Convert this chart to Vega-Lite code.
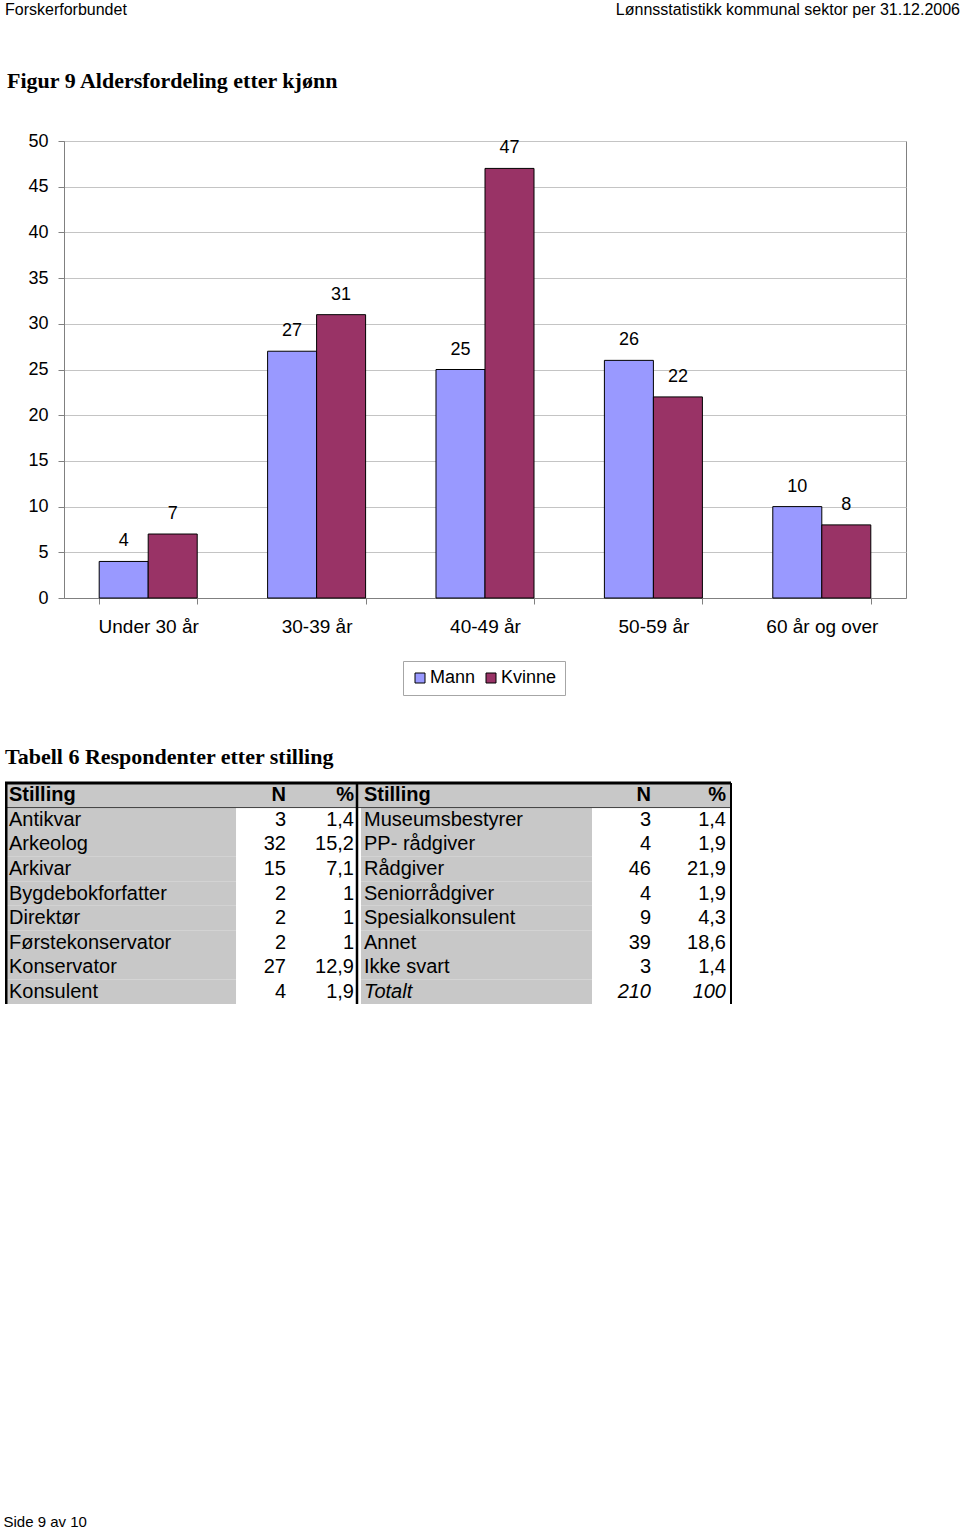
{
  "$schema": "https://vega.github.io/schema/vega-lite/v6.json",
  "background": "white",
  "padding": {"left": 3, "right": 0, "top": 0, "bottom": 0},
  "spacing": 49,
  "config": {
    "font": "Liberation Sans",
    "view": {"stroke": null},
    "title": {"color": "black"}
  },
  "datasets": {
    "topptekst": [
      {"side": "venstre", "tekst": "Forskerforbundet"},
      {"side": "høyre", "tekst": "Lønnsstatistikk kommunal sektor per 31.12.2006"}
    ],
    "alder": [
      {"alder": "Under 30 år", "kjonn": "Mann", "antall": 4},
      {"alder": "Under 30 år", "kjonn": "Kvinne", "antall": 7},
      {"alder": "30-39 år", "kjonn": "Mann", "antall": 27},
      {"alder": "30-39 år", "kjonn": "Kvinne", "antall": 31},
      {"alder": "40-49 år", "kjonn": "Mann", "antall": 25},
      {"alder": "40-49 år", "kjonn": "Kvinne", "antall": 47},
      {"alder": "50-59 år", "kjonn": "Mann", "antall": 26},
      {"alder": "50-59 år", "kjonn": "Kvinne", "antall": 22},
      {"alder": "60 år og over", "kjonn": "Mann", "antall": 10},
      {"alder": "60 år og over", "kjonn": "Kvinne", "antall": 8}
    ],
    "stilling": [
      {"rad": 0, "blokk": "L", "stilling": "Stilling", "n": "N", "pct": "%", "type": "header"},
      {"rad": 1, "blokk": "L", "stilling": "Antikvar", "n": "3", "pct": "1,4", "type": "stilling"},
      {"rad": 2, "blokk": "L", "stilling": "Arkeolog", "n": "32", "pct": "15,2", "type": "stilling"},
      {"rad": 3, "blokk": "L", "stilling": "Arkivar", "n": "15", "pct": "7,1", "type": "stilling"},
      {"rad": 4, "blokk": "L", "stilling": "Bygdebokforfatter", "n": "2", "pct": "1", "type": "stilling"},
      {"rad": 5, "blokk": "L", "stilling": "Direktør", "n": "2", "pct": "1", "type": "stilling"},
      {"rad": 6, "blokk": "L", "stilling": "Førstekonservator", "n": "2", "pct": "1", "type": "stilling"},
      {"rad": 7, "blokk": "L", "stilling": "Konservator", "n": "27", "pct": "12,9", "type": "stilling"},
      {"rad": 8, "blokk": "L", "stilling": "Konsulent", "n": "4", "pct": "1,9", "type": "stilling"},
      {"rad": 0, "blokk": "R", "stilling": "Stilling", "n": "N", "pct": "%", "type": "header"},
      {"rad": 1, "blokk": "R", "stilling": "Museumsbestyrer", "n": "3", "pct": "1,4", "type": "stilling"},
      {"rad": 2, "blokk": "R", "stilling": "PP- rådgiver", "n": "4", "pct": "1,9", "type": "stilling"},
      {"rad": 3, "blokk": "R", "stilling": "Rådgiver", "n": "46", "pct": "21,9", "type": "stilling"},
      {"rad": 4, "blokk": "R", "stilling": "Seniorrådgiver", "n": "4", "pct": "1,9", "type": "stilling"},
      {"rad": 5, "blokk": "R", "stilling": "Spesialkonsulent", "n": "9", "pct": "4,3", "type": "stilling"},
      {"rad": 6, "blokk": "R", "stilling": "Annet", "n": "39", "pct": "18,6", "type": "stilling"},
      {"rad": 7, "blokk": "R", "stilling": "Ikke svart", "n": "3", "pct": "1,4", "type": "stilling"},
      {"rad": 8, "blokk": "R", "stilling": "Totalt", "n": "210", "pct": "100", "type": "total"}
    ]
  },
  "title": {
    "text": "Side 9 av 10",
    "orient": "bottom",
    "anchor": "start",
    "offset": 510,
    "font": "Liberation Sans",
    "fontSize": 15,
    "fontWeight": "normal",
    "color": "black"
  },
  "vconcat": [
    {
      "width": 955,
      "height": 20,
      "data": {"name": "topptekst"},
      "mark": {
        "type": "text",
        "font": "Liberation Sans",
        "fontSize": 16,
        "baseline": "middle",
        "color": "black",
        "align": {"expr": "datum.side == 'venstre' ? 'left' : 'right'"}
      },
      "encoding": {
        "x": {"field": "side", "type": "nominal", "sort": ["venstre", "høyre"], "scale": {"type": "point", "padding": 0}, "axis": null},
        "text": {"field": "tekst"}
      }
    },
    {
      "spacing": 0,
      "resolve": {"legend": {"color": "independent"}},
      "hconcat": [
        {
          "width": 1,
          "height": 20,
          "data": {"values": []},
          "mark": "point"
        },
        {
          "width": 842,
          "height": 457,
          "view": {"stroke": "#808080"},
          "title": {
            "text": "Figur 9 Aldersfordeling etter kjønn",
            "anchor": "start",
            "frame": "group",
            "dx": -57,
            "offset": 39,
            "font": "Liberation Serif",
            "fontSize": 22,
            "fontWeight": "bold",
            "color": "black"
          },
          "data": {"name": "alder"},
          "encoding": {
            "x": {
              "field": "alder",
              "type": "nominal",
              "sort": ["Under 30 år", "30-39 år", "40-49 år", "50-59 år", "60 år og over"],
              "scale": {"paddingInner": 0.418, "paddingOuter": 0.209},
              "axis": {
                "title": null,
                "labelAngle": 0,
                "labelFontSize": 19,
                "labelColor": "black",
                "labelPadding": 13,
                "domainColor": "#808080",
                "tickColor": "#808080",
                "tickSize": 6,
                "tickBand": "extent",
                "grid": false
              }
            },
            "xOffset": {"field": "kjonn", "type": "nominal", "sort": ["Mann", "Kvinne"], "scale": {"paddingInner": 0, "paddingOuter": 0}},
            "y": {
              "field": "antall",
              "type": "quantitative",
              "scale": {"domain": [0, 50]},
              "axis": {
                "title": null,
                "values": [0, 5, 10, 15, 20, 25, 30, 35, 40, 45, 50],
                "labelFontSize": 18,
                "labelColor": "black",
                "labelPadding": 10,
                "gridColor": "#c4c4c4",
                "domainColor": "#808080",
                "tickColor": "#808080",
                "tickSize": 6
              }
            }
          },
          "layer": [
            {
              "mark": {"type": "bar", "stroke": "black", "strokeWidth": 1},
              "encoding": {
                "color": {
                  "field": "kjonn",
                  "type": "nominal",
                  "scale": {"domain": ["Mann", "Kvinne"], "range": ["#9999ff", "#993366"]},
                  "legend": {
                    "title": null,
                    "orient": "none",
                    "legendX": 339,
                    "legendY": 520,
                    "direction": "horizontal",
                    "symbolType": "square",
                    "symbolSize": 100,
                    "symbolStrokeColor": "black",
                    "symbolStrokeWidth": 1,
                    "labelFontSize": 18,
                    "labelColor": "black",
                    "labelOffset": 1,
                    "columnPadding": 6,
                    "padding": 8,
                    "strokeColor": "#a6a6a6",
                    "fillColor": "white"
                  }
                }
              }
            },
            {
              "mark": {"type": "text", "baseline": "alphabetic", "dy": -15, "fontSize": 18, "color": "black"},
              "encoding": {"text": {"field": "antall", "type": "quantitative"}}
            }
          ]
        }
      ]
    },
    {
      "width": 726,
      "height": 221,
      "title": {
        "text": "Tabell 6 Respondenter etter stilling",
        "anchor": "start",
        "frame": "group",
        "offset": 13,
        "font": "Liberation Serif",
        "fontSize": 22,
        "fontWeight": "bold",
        "color": "black"
      },
      "data": {"name": "stilling"},
      "layer": [
        {
          "transform": [{"filter": "datum.type == 'header' && datum.blokk == 'L'"}],
          "mark": {"type": "rect", "color": "#c8c8c8"},
          "encoding": {
            "y": {"field": "rad", "type": "ordinal", "scale": {"paddingInner": 0, "paddingOuter": 0, "domain": [0, 1, 2, 3, 4, 5, 6, 7, 8]}, "axis": null},
            "x": {"value": 0},
            "x2": {"value": "width"}
          }
        },
        {
          "transform": [{"filter": "datum.type != 'header'"}],
          "mark": {"type": "rect", "color": "#c8c8c8"},
          "encoding": {
            "y": {"field": "rad", "type": "ordinal", "axis": null},
            "x": {"field": "blokk", "type": "nominal", "scale": {"type": "band", "range": [0, 587], "paddingInner": 0.351, "paddingOuter": 0}, "axis": null}
          }
        },
        {
          "transform": [{"filter": "datum.rad == 0 && datum.blokk == 'L'"}],
          "mark": {"type": "rule", "color": "black", "strokeWidth": 3},
          "encoding": {
            "y": {"field": "rad", "type": "ordinal", "bandPosition": 0, "axis": null},
            "x": {"value": 0},
            "x2": {"value": "width"}
          }
        },
        {
          "transform": [{"filter": "datum.rad == 1 && datum.blokk == 'L'"}],
          "mark": {"type": "rule", "color": "#404040", "strokeWidth": 1},
          "encoding": {
            "y": {"field": "rad", "type": "ordinal", "bandPosition": 0, "axis": null},
            "x": {"value": 0},
            "x2": {"value": "width"}
          }
        },
        {
          "transform": [{"filter": "datum.type == 'header'"}],
          "mark": {"type": "rule", "color": "black", "strokeWidth": 2.5},
          "encoding": {
            "x": {"field": "blokk", "type": "nominal", "scale": {"type": "point", "range": [1.25, 352], "padding": 0}, "axis": null},
            "y": {"value": 0},
            "y2": {"value": "height"}
          }
        },
        {
          "transform": [{"filter": "datum.type == 'header' && datum.blokk == 'R'"}],
          "mark": {"type": "rule", "color": "black", "strokeWidth": 2},
          "encoding": {
            "x": {"value": "width"},
            "y": {"value": 0},
            "y2": {"value": "height"}
          }
        },
        {
          "mark": {
            "type": "text", "align": "left", "baseline": "middle", "fontSize": 20, "color": "black",
            "fontWeight": {"expr": "datum.type == 'header' ? 'bold' : 'normal'"},
            "fontStyle": {"expr": "datum.type == 'total' ? 'italic' : 'normal'"}
          },
          "encoding": {
            "y": {"field": "rad", "type": "ordinal", "axis": null},
            "x": {"field": "blokk", "type": "nominal", "scale": {"type": "point", "range": [4, 359], "padding": 0}, "axis": null},
            "text": {"field": "stilling"}
          }
        },
        {
          "mark": {
            "type": "text", "align": "right", "baseline": "middle", "fontSize": 20, "color": "black",
            "fontWeight": {"expr": "datum.type == 'header' ? 'bold' : 'normal'"},
            "fontStyle": {"expr": "datum.type == 'total' ? 'italic' : 'normal'"}
          },
          "encoding": {
            "y": {"field": "rad", "type": "ordinal", "axis": null},
            "x": {"field": "blokk", "type": "nominal", "scale": {"type": "point", "range": [281, 646], "padding": 0}, "axis": null},
            "text": {"field": "n"}
          }
        },
        {
          "mark": {
            "type": "text", "align": "right", "baseline": "middle", "fontSize": 20, "color": "black",
            "fontWeight": {"expr": "datum.type == 'header' ? 'bold' : 'normal'"},
            "fontStyle": {"expr": "datum.type == 'total' ? 'italic' : 'normal'"}
          },
          "encoding": {
            "y": {"field": "rad", "type": "ordinal", "axis": null},
            "x": {"field": "blokk", "type": "nominal", "scale": {"type": "point", "range": [349, 721], "padding": 0}, "axis": null},
            "text": {"field": "pct"}
          }
        }
      ],
      "resolve": {"scale": {"x": "independent"}}
    }
  ]
}
